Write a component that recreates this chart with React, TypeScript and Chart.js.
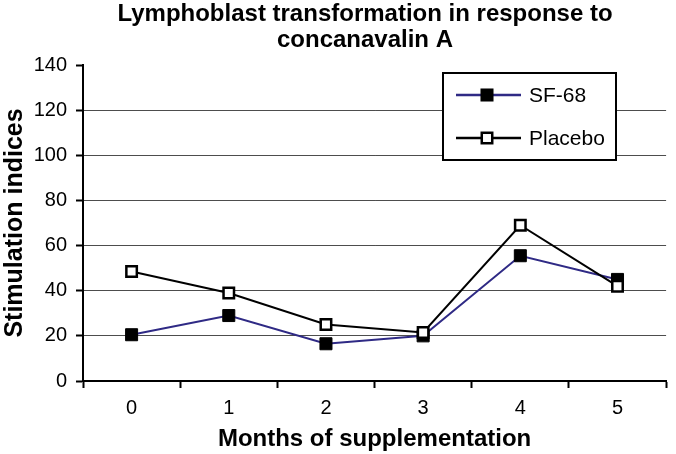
import React, { useEffect, useRef } from "react";
import { Chart, registerables } from "chart.js";

Chart.register(...registerables);

const FONT = "'Liberation Sans', Arial, Helvetica, sans-serif";

const months = ["0", "1", "2", "3", "4", "5"];
const sf68 = [20.5, 29, 16.5, 20, 55.5, 45];
const placebo = [48.5, 39, 25, 21.5, 69, 42];
const seriesLabels = ["SF-68", "Placebo"];
const titleLines = ["Lymphoblast transformation in response to", "concanavalin A"];
const xTitle = "Months of supplementation";
const yTitle = "Stimulation indices";
const yMin = 0;
const yMax = 140;
const yStep = 20;

const titlePlugin = {
  id: "customTitle",
  afterDraw(chart: any) {
    const ctx = chart.ctx;
    ctx.save();
    ctx.font = `bold 24px ${FONT}`;
    ctx.fillStyle = "#000";
    ctx.textAlign = "center";
    ctx.textBaseline = "alphabetic";
    titleLines.forEach((line, i) => ctx.fillText(line, 365, 21 + i * 26));
    ctx.restore();
  },
};

const legendPlugin = {
  id: "boxLegend",
  afterDraw(chart: any) {
    const ctx = chart.ctx;
    const x0 = 443, y0 = 73, w = 173, h = 87;
    ctx.save();
    ctx.fillStyle = "#fff";
    ctx.fillRect(x0, y0, w, h);
    ctx.strokeStyle = "#000";
    ctx.lineWidth = 2;
    ctx.strokeRect(x0, y0, w, h);
    chart.data.datasets.forEach((ds: any, i: number) => {
      const cy = 95 + i * 43;
      ctx.strokeStyle = ds.borderColor;
      ctx.lineWidth = 2.5;
      ctx.beginPath();
      ctx.moveTo(456, cy);
      ctx.lineTo(521, cy);
      ctx.stroke();
      const half = Math.SQRT1_2 * ds.pointRadius;
      ctx.fillStyle = ds.pointBackgroundColor;
      ctx.fillRect(487 - half, cy - half, 2 * half, 2 * half);
      ctx.strokeStyle = ds.pointBorderColor;
      ctx.lineWidth = ds.pointBorderWidth;
      ctx.strokeRect(487 - half, cy - half, 2 * half, 2 * half);
      ctx.fillStyle = "#000";
      ctx.font = `21px ${FONT}`;
      ctx.textAlign = "left";
      ctx.textBaseline = "middle";
      ctx.fillText(ds.label, 529, cy + 1);
    });
    ctx.restore();
  },
};

export default function App() {
  const ref = useRef<HTMLCanvasElement | null>(null);

  useEffect(() => {
    if (!ref.current) return;
    const chart = new Chart(ref.current, {
      type: "line",
      data: {
        labels: months,
        datasets: [
          {
            label: seriesLabels[0],
            data: sf68,
            borderColor: "#2f2a85",
            borderWidth: 2,
            pointStyle: "rect",
            pointRadius: 8.5,
            pointBackgroundColor: "#000",
            pointBorderColor: "#000",
            pointBorderWidth: 1,
            tension: 0,
            order: 1,
          },
          {
            label: seriesLabels[1],
            data: placebo,
            borderColor: "#000",
            borderWidth: 2,
            pointStyle: "rect",
            pointRadius: 7.4,
            pointBackgroundColor: "#fff",
            pointBorderColor: "#000",
            pointBorderWidth: 2.5,
            tension: 0,
            order: 0,
          },
        ],
      },
      options: {
        responsive: false,
        animation: false,
        layout: { padding: { top: 65, right: 1, left: 0, bottom: 0 } },
        plugins: {
          legend: { display: false },
          title: { display: false },
          tooltip: { enabled: false },
        },
        scales: {
          x: {
            offset: true,
            grid: {
              offset: true,
              drawOnChartArea: false,
              drawTicks: true,
              tickLength: 7,
              tickColor: "#000",
              tickWidth: 2,
            },
            border: { color: "#000", width: 2 },
            ticks: { color: "#000", font: { size: 20, family: FONT }, padding: 8 },
            title: {
              display: true,
              text: xTitle,
              color: "#000",
              font: { size: 24, weight: "bold", family: FONT },
              padding: 0,
            },
            afterFit(s: any) {
              s.height = 73;
            },
          },
          y: {
            min: yMin,
            max: yMax,
            ticks: { stepSize: yStep, color: "#000", font: { size: 20, family: FONT }, padding: 9 },
            grid: {
              color: (c: any) => (c.tick && c.tick.value === yMax ? "rgba(0,0,0,0)" : "#4d4d4d"),
              lineWidth: 1,
              tickLength: 7,
              tickColor: "#000",
              tickWidth: 2,
            },
            border: { color: "#000", width: 2 },
            title: {
              display: true,
              text: yTitle,
              color: "#000",
              font: { size: 25, weight: "bold", family: FONT },
              padding: 0,
            },
            afterFit(s: any) {
              s.width = 83;
            },
          },
        },
      },
      plugins: [titlePlugin, legendPlugin],
    } as any);
    return () => chart.destroy();
  }, []);

  return (
    <div style={{ position: "absolute", left: 0, top: 0, width: 676, height: 454, background: "#fff" }}>
      <canvas ref={ref} width={676} height={454} style={{ display: "block" }} />
    </div>
  );
}
